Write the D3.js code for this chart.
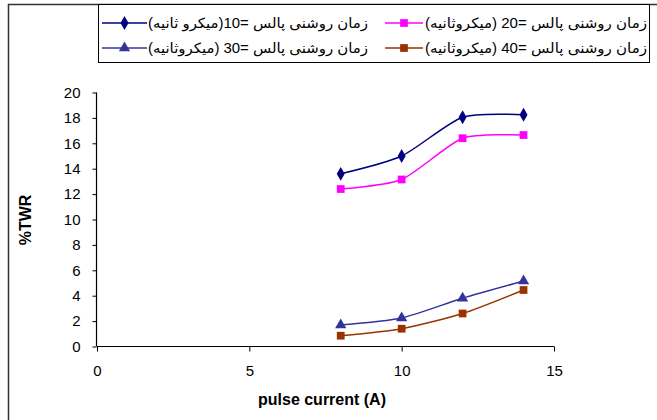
<!DOCTYPE html>
<html><head><meta charset="utf-8">
<script src="https://cdn.jsdelivr.net/npm/d3@7"></script>
<style>
body{margin:0;background:#fff;}
text{font-family:"Liberation Sans",Arial,"DejaVu Sans",sans-serif;}
</style></head>
<body><svg id="c" width="657" height="420"></svg>
<script>
const xValues = [8, 10, 12, 14];
const series10 = [13.6, 15.0, 18.05, 18.25];
const series20 = [12.4, 13.15, 16.4, 16.65];
const series30 = [1.7, 2.25, 3.8, 5.15];
const series40 = [0.85, 1.4, 2.6, 4.45];
const seriesLabels = [
  "زمان روشنی پالس =10(میکرو ثانیه)",
  "زمان روشنی پالس =20 (میکروثانیه)",
  "زمان روشنی پالس =30 (میکروثانیه)",
  "زمان روشنی پالس =40 (میکروثانیه)"
];
const xTicks = [0, 5, 10, 15];
const yTicks = [0, 2, 4, 6, 8, 10, 12, 14, 16, 18, 20];
const xTitle = "pulse current (A)";
const yTitle = "%TWR";

const seriesDefs = [
  {vals: series10, label: seriesLabels[0], color: "#000080", sym: d3.symbolDiamond, size: 55},
  {vals: series20, label: seriesLabels[1], color: "#FF00FF", sym: d3.symbolSquare, size: 60},
  {vals: series30, label: seriesLabels[2], color: "#333399", sym: d3.symbolTriangle, size: 55},
  {vals: series40, label: seriesLabels[3], color: "#993300", sym: d3.symbolSquare, size: 60}
];

const svg = d3.select("#c");
svg.append("rect").attr("x", 8.5).attr("y", 4.5).attr("width", 700).attr("height", 500)
  .attr("fill", "none").attr("stroke", "#333").attr("stroke-width", 1.5);

const x = d3.scaleLinear().domain([0, 15]).range([97, 554]);
const y = d3.scaleLinear().domain([0, 20]).range([346.5, 92.5]);

const gx = svg.append("g").attr("transform", "translate(0,346.5)")
  .call(d3.axisBottom(x).tickValues(xTicks).tickSize(5).tickPadding(14).tickFormat(d3.format("d")));
const gy = svg.append("g").attr("transform", "translate(96.5,0)")
  .call(d3.axisLeft(y).tickValues(yTicks).tickSize(4).tickPadding(12).tickFormat(d3.format("d")));
[gx, gy].forEach(g => {
  g.select(".domain").attr("stroke", "#000").attr("stroke-width", 1.2);
  g.selectAll(".tick line").attr("stroke", "#000");
  g.selectAll(".tick text").attr("font-size", 15).attr("fill", "#000")
    .style("font-family", '"Liberation Sans",Arial,sans-serif');
});
gx.select(".domain").attr("d", `M${x(0)},0H${x(15)}`);
gy.select(".domain").attr("d", `M0,${y(0)}V${y(20)}`);

svg.append("text").attr("x", 322).attr("y", 405).attr("text-anchor", "middle")
  .attr("font-size", 16).attr("font-weight", "bold").text(xTitle);
svg.append("text").attr("transform", "translate(31,220) rotate(-90)").attr("text-anchor", "middle")
  .attr("font-size", 16).attr("font-weight", "bold").text(yTitle);

const line = d3.line().x((d, i) => x(xValues[i])).y(d => y(d)).curve(d3.curveCardinal.tension(0.3));

seriesDefs.forEach(s => {
  svg.append("path").attr("d", line(s.vals)).attr("fill", "none")
    .attr("stroke", s.color).attr("stroke-width", 1.5);
  svg.selectAll(null).data(s.vals).enter().append("path")
    .attr("transform", (d, i) => `translate(${x(xValues[i])},${y(d)})`)
    .attr("d", d3.symbol().type(s.sym).size(s.size)).attr("fill", s.color);
});

// legend
svg.append("rect").attr("x", 98.5).attr("y", 4.5).attr("width", 551).attr("height", 58)
  .attr("fill", "#fff").attr("stroke", "#000").attr("stroke-width", 1);
const legPos = [
  {lx1: 102, lx2: 147, tx: 148, tw: 220, ty: 23},
  {lx1: 385, lx2: 423, tx: 425, tw: 222, ty: 23},
  {lx1: 102, lx2: 147, tx: 148, tw: 220, ty: 48},
  {lx1: 385, lx2: 423, tx: 425, tw: 222, ty: 48}
];
seriesDefs.forEach((s, i) => {
  const p = legPos[i];
  svg.append("line").attr("x1", p.lx1).attr("x2", p.lx2).attr("y1", p.ty).attr("y2", p.ty)
    .attr("stroke", s.color).attr("stroke-width", 1.5);
  svg.append("path").attr("transform", `translate(${(p.lx1 + p.lx2) / 2},${p.ty})`)
    .attr("d", d3.symbol().type(s.sym).size(s.size)).attr("fill", s.color);
  svg.append("text").attr("x", p.tx).attr("y", p.ty + 5).attr("font-size", 14)
    .attr("textLength", p.tw).attr("lengthAdjust", "spacingAndGlyphs")
    .attr("fill", "#000").text(s.label);
});
</script>
</body></html>
